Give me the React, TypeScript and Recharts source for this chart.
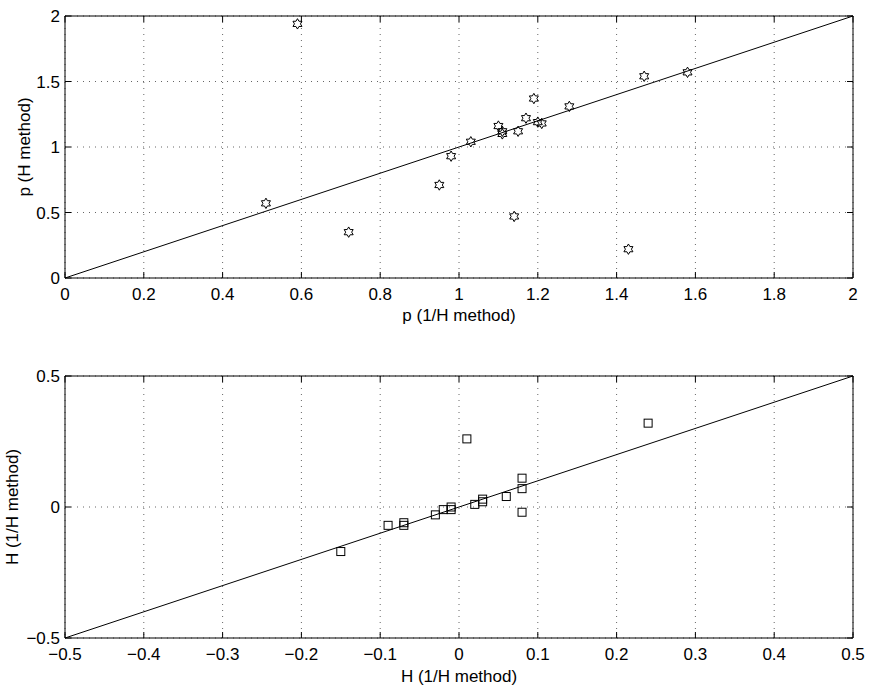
import { ScatterChart, Scatter, XAxis, YAxis, CartesianGrid, ReferenceLine, Label } from "recharts";

// ─── Data ─────────────────────────────────────────────────────────────────────
// top panel: p estimated by the 1/H method (x) vs the H method (y)
const pOneOverH = [0.59, 0.51, 0.72, 0.95, 0.98, 1.03, 1.1, 1.11, 1.11, 1.15, 1.17, 1.19, 1.2, 1.21, 1.28, 1.47, 1.58, 1.14, 1.43];
const pH = [1.94, 0.57, 0.35, 0.71, 0.93, 1.04, 1.16, 1.12, 1.1, 1.12, 1.22, 1.37, 1.19, 1.18, 1.31, 1.54, 1.57, 0.47, 0.22];

// bottom panel: H estimates
const hX = [-0.15, -0.09, -0.07, -0.07, -0.03, -0.02, -0.01, -0.01, 0.01, 0.02, 0.03, 0.03, 0.06, 0.08, 0.08, 0.08, 0.24];
const hY = [-0.17, -0.07, -0.06, -0.07, -0.03, -0.01, 0, -0.01, 0.26, 0.01, 0.03, 0.02, 0.04, 0.11, 0.07, -0.02, 0.32];

const pXTicks = [0, 0.2, 0.4, 0.6, 0.8, 1, 1.2, 1.4, 1.6, 1.8, 2];
const pYTicks = [0, 0.5, 1, 1.5, 2];
const hXTicks = [-0.5, -0.4, -0.3, -0.2, -0.1, 0, 0.1, 0.2, 0.3, 0.4, 0.5];
const hYTicks = [-0.5, 0, 0.5];

const pDomain: [number, number] = [0, 2];
const hDomain: [number, number] = [-0.5, 0.5];

const pData = pOneOverH.map((x, i) => ({ x, y: pH[i] }));
const hData = hX.map((x, i) => ({ x, y: hY[i] }));

const FONT = '"Liberation Sans", Arial, Helvetica, sans-serif';
const FS = 17;
const W = 872;
const MARGIN_RIGHT = 19;
const Y_AXIS_W = 65;
const PLOT_W = W - MARGIN_RIGHT - Y_AXIS_W;
const TICK_LEN = 6;
const X_GAP = 10;
const Y_GAP = 5;

const fmt = (v: number) => String(v).replace("-", "\u2212");

// ─── Markers ──────────────────────────────────────────────────────────────────
function Hexagram(props: any) {
  const { cx, cy } = props;
  const R = 5.2;
  const r = R / Math.sqrt(3);
  const pts: string[] = [];
  for (let k = 0; k < 12; k++) {
    const a = ((-90 + k * 30) * Math.PI) / 180;
    const rad = k % 2 === 0 ? R : r;
    pts.push(`${cx + rad * Math.cos(a)},${cy + rad * Math.sin(a)}`);
  }
  return <polygon points={pts.join(" ")} fill="none" stroke="#000" strokeWidth={1} />;
}

function Square(props: any) {
  const { cx, cy } = props;
  return <rect x={cx - 4} y={cy - 4} width={8} height={8} fill="none" stroke="#000" strokeWidth={1} />;
}

// ─── Ticks (matlab style: pointing inward, on both sides of the box) ─────────
const xTick = (plotH: number) => (props: any) => {
  const { x, y, payload } = props;
  const axisY = y - X_GAP;
  return (
    <g>
      <line x1={x} y1={axisY} x2={x} y2={axisY - TICK_LEN} stroke="#000" />
      <line x1={x} y1={axisY - plotH} x2={x} y2={axisY - plotH + TICK_LEN} stroke="#000" />
      <text x={x} y={y} dy="0.72em" textAnchor="middle" fontSize={FS} fontFamily={FONT} fill="#000">
        {fmt(payload.value)}
      </text>
    </g>
  );
};

const yTick = (props: any) => {
  const { x, y, payload } = props;
  const axisX = x + Y_GAP;
  return (
    <g>
      <line x1={axisX} y1={y} x2={axisX + TICK_LEN} y2={y} stroke="#000" />
      <line x1={axisX + PLOT_W} y1={y} x2={axisX + PLOT_W - TICK_LEN} y2={y} stroke="#000" />
      <text x={x} y={y} dy="0.36em" textAnchor="end" fontSize={FS} fontFamily={FONT} fill="#000">
        {fmt(payload.value)}
      </text>
    </g>
  );
};

// ─── Axis titles ──────────────────────────────────────────────────────────────
const xTitle = (text: string, fromBottom: number) => (props: any) => {
  const { x, y, width, height } = props.viewBox;
  return (
    <text x={x + width / 2} y={y + height - fromBottom} textAnchor="middle" fontSize={FS} fontFamily={FONT} fill="#000">
      {text}
    </text>
  );
};

const yTitle = (text: string, baselineX: number) => (props: any) => {
  const { y, height } = props.viewBox;
  const cy = y + height / 2;
  return (
    <text
      x={baselineX}
      y={cy}
      transform={`rotate(-90 ${baselineX} ${cy})`}
      textAnchor="middle"
      fontSize={FS}
      fontFamily={FONT}
      fill="#000"
    >
      {text}
    </text>
  );
};

// ─── Panel ────────────────────────────────────────────────────────────────────
function Panel({
  data,
  domain,
  xTicks,
  yTicks,
  height,
  top,
  xAxisHeight,
  xLabel,
  yLabel,
  xLabelBottom,
  yLabelX,
  shape,
}: {
  data: { x: number; y: number }[];
  domain: [number, number];
  xTicks: number[];
  yTicks: number[];
  height: number;
  top: number;
  xAxisHeight: number;
  xLabel: string;
  yLabel: string;
  xLabelBottom: number;
  yLabelX: number;
  shape: (p: any) => any;
}) {
  const plotH = height - top - xAxisHeight;
  return (
    <ScatterChart width={W} height={height} margin={{ top, right: MARGIN_RIGHT, left: 0, bottom: 0 }}>
      <CartesianGrid stroke="#666" strokeDasharray="1 5" />
      <XAxis
        type="number"
        dataKey="x"
        domain={domain}
        ticks={xTicks}
        allowDataOverflow
        height={xAxisHeight}
        tickLine={false}
        tickSize={0}
        tickMargin={X_GAP}
        tick={xTick(plotH)}
        stroke="#000"
        label={<Label content={xTitle(xLabel, xLabelBottom)} />}
      />
      <YAxis
        type="number"
        dataKey="y"
        domain={domain}
        ticks={yTicks}
        allowDataOverflow
        width={Y_AXIS_W}
        tickLine={false}
        tickSize={0}
        tickMargin={Y_GAP}
        tick={yTick}
        stroke="#000"
        label={<Label content={yTitle(yLabel, yLabelX)} />}
      />
      {/* close the box */}
      <ReferenceLine y={domain[1]} stroke="#000" strokeWidth={1} />
      <ReferenceLine x={domain[1]} stroke="#000" strokeWidth={1} />
      <ReferenceLine
        segment={[
          { x: domain[0], y: domain[0] },
          { x: domain[1], y: domain[1] },
        ]}
        stroke="#000"
        strokeWidth={1}
      />
      <Scatter data={data} shape={shape} isAnimationActive={false} />
    </ScatterChart>
  );
}

export default function App() {
  return (
    <div style={{ position: "absolute", left: 0, top: 0, width: W, height: 687, background: "#fff" }}>
      <Panel
        data={pData}
        domain={pDomain}
        xTicks={pXTicks}
        yTicks={pYTicks}
        height={340}
        top={16}
        xAxisHeight={62}
        xLabel="p (1/H method)"
        yLabel="p (H method)"
        xLabelBottom={19}
        yLabelX={30}
        shape={Hexagram}
      />
      <Panel
        data={hData}
        domain={hDomain}
        xTicks={hXTicks}
        yTicks={hYTicks}
        height={347}
        top={36}
        xAxisHeight={49}
        xLabel="H (1/H method)"
        yLabel="H (1/H method)"
        xLabelBottom={5}
        yLabelX={18}
        shape={Square}
      />
    </div>
  );
}
